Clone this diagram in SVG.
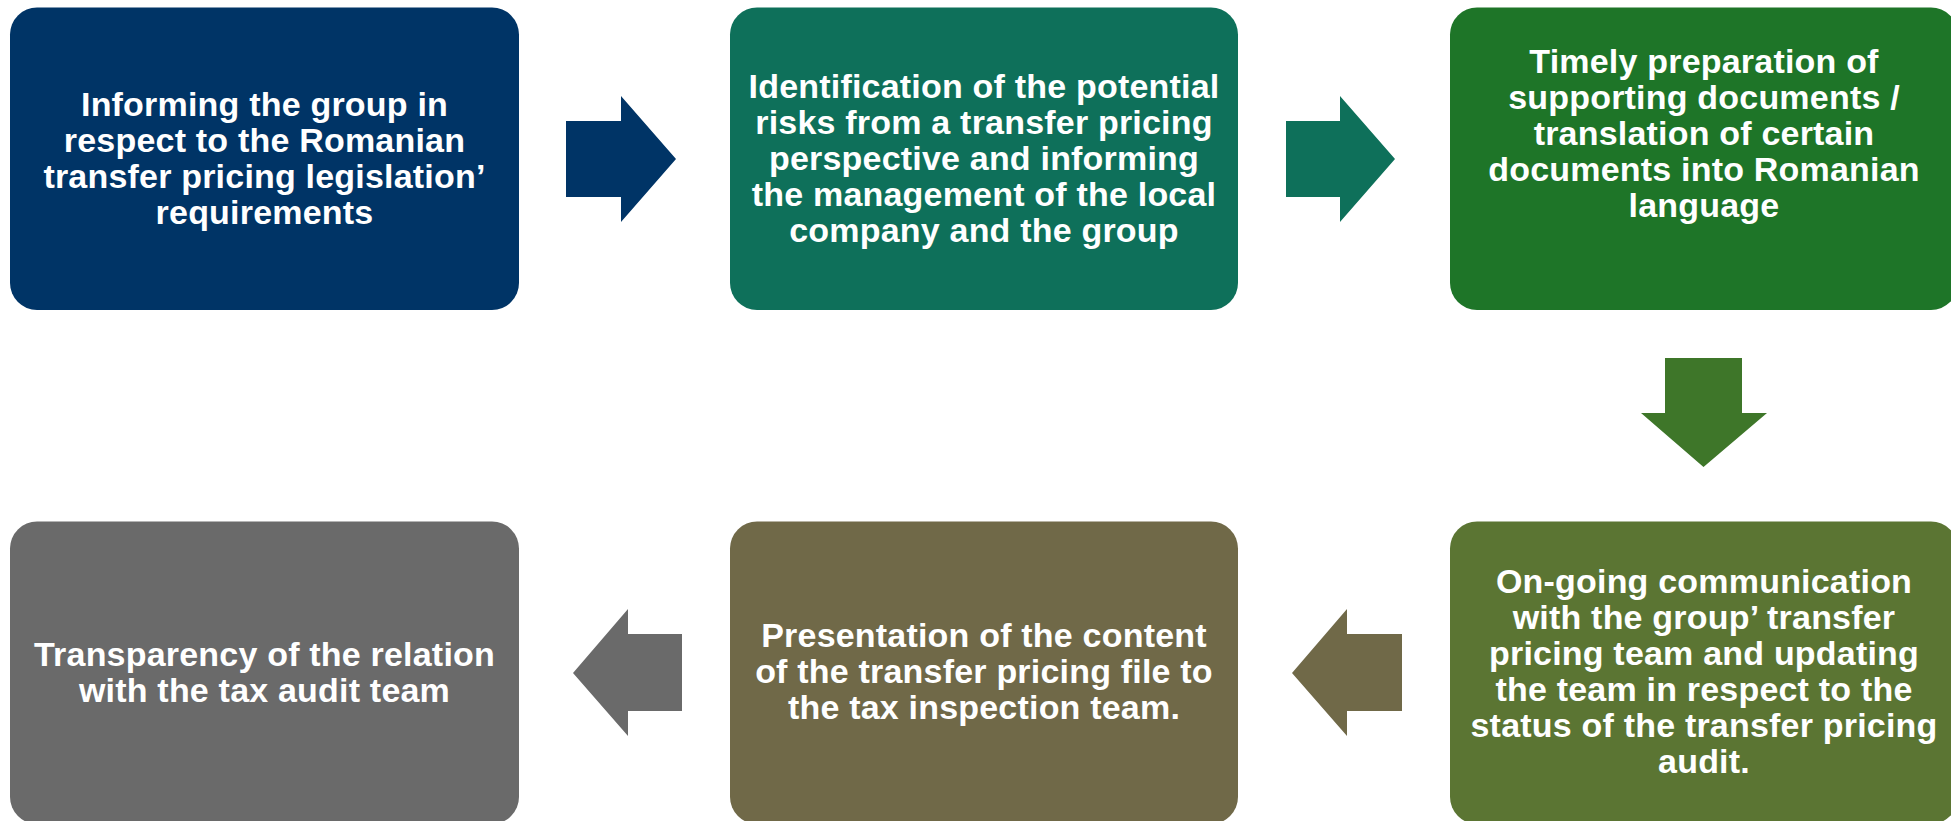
<svg xmlns="http://www.w3.org/2000/svg" width="1951" height="821" viewBox="0 0 1951 821">
<style>
.box{stroke:none}
.t{font-family:"Liberation Sans",Arial,sans-serif;font-weight:bold;font-size:34px;fill:#ffffff;text-anchor:middle;letter-spacing:0.2px}
</style>
<rect width="1951" height="821" fill="#ffffff"/>
<g id="connectors">
<polygon id="a1" fill="#003466" points="566,121 621,121 621,96 676,159 621,222 621,197 566,197"/>
<polygon id="a2" fill="#0e705a" points="1286,121 1340,121 1340,96 1395,159 1340,222 1340,197 1286,197"/>
<polygon id="a3" fill="#3e7629" points="1665,358 1742,358 1742,413 1767,413 1703.5,467 1641,413 1665,413"/>
<polygon id="a4" fill="#706948" points="1402,634 1347,634 1347,609 1292,673 1347,736 1347,711 1402,711"/>
<polygon id="a5" fill="#6a6a6a" points="682,634 628,634 628,609 573,673 628,736 628,711 682,711"/>
</g>
<g id="n1">
<rect class="box" x="10" y="7.5" width="509" height="302.5" rx="27" fill="#003466"/>
<text class="t"><tspan x="264.5" y="116">Informing the group in</tspan><tspan x="264.5" y="152">respect to the Romanian</tspan><tspan x="264.5" y="188">transfer pricing legislation’</tspan><tspan x="264.5" y="224">requirements</tspan></text>
</g>
<g id="n2">
<rect class="box" x="730" y="7.5" width="508" height="302.5" rx="27" fill="#0e705a"/>
<text class="t"><tspan x="984" y="98">Identification of the potential</tspan><tspan x="984" y="134">risks from a transfer pricing</tspan><tspan x="984" y="170">perspective and informing</tspan><tspan x="984" y="206">the management of the local</tspan><tspan x="984" y="242">company and the group</tspan></text>
</g>
<g id="n3">
<rect class="box" x="1450" y="7.5" width="508" height="302.5" rx="27" fill="#1e7528"/>
<text class="t"><tspan x="1704" y="73">Timely preparation of</tspan><tspan x="1704" y="109">supporting documents /</tspan><tspan x="1704" y="145">translation of certain</tspan><tspan x="1704" y="181">documents into Romanian</tspan><tspan x="1704" y="217">language</tspan></text>
</g>
<g id="n4">
<rect class="box" x="1450" y="521.5" width="508" height="302.5" rx="27" fill="#5b7533"/>
<text class="t"><tspan x="1704" y="593">On-going communication</tspan><tspan x="1704" y="629">with the group’ transfer</tspan><tspan x="1704" y="665">pricing team and updating</tspan><tspan x="1704" y="701">the team in respect to the</tspan><tspan x="1704" y="737">status of the transfer pricing</tspan><tspan x="1704" y="773">audit.</tspan></text>
</g>
<g id="n5">
<rect class="box" x="730" y="521.5" width="508" height="302.5" rx="27" fill="#706948"/>
<text class="t"><tspan x="984" y="647">Presentation of the content</tspan><tspan x="984" y="683">of the transfer pricing file to</tspan><tspan x="984" y="719">the tax inspection team.</tspan></text>
</g>
<g id="n6">
<rect class="box" x="10" y="521.5" width="509" height="302.5" rx="27" fill="#6a6a6a"/>
<text class="t"><tspan x="264.5" y="666">Transparency of the relation</tspan><tspan x="264.5" y="702">with the tax audit team</tspan></text>
</g>
</svg>
